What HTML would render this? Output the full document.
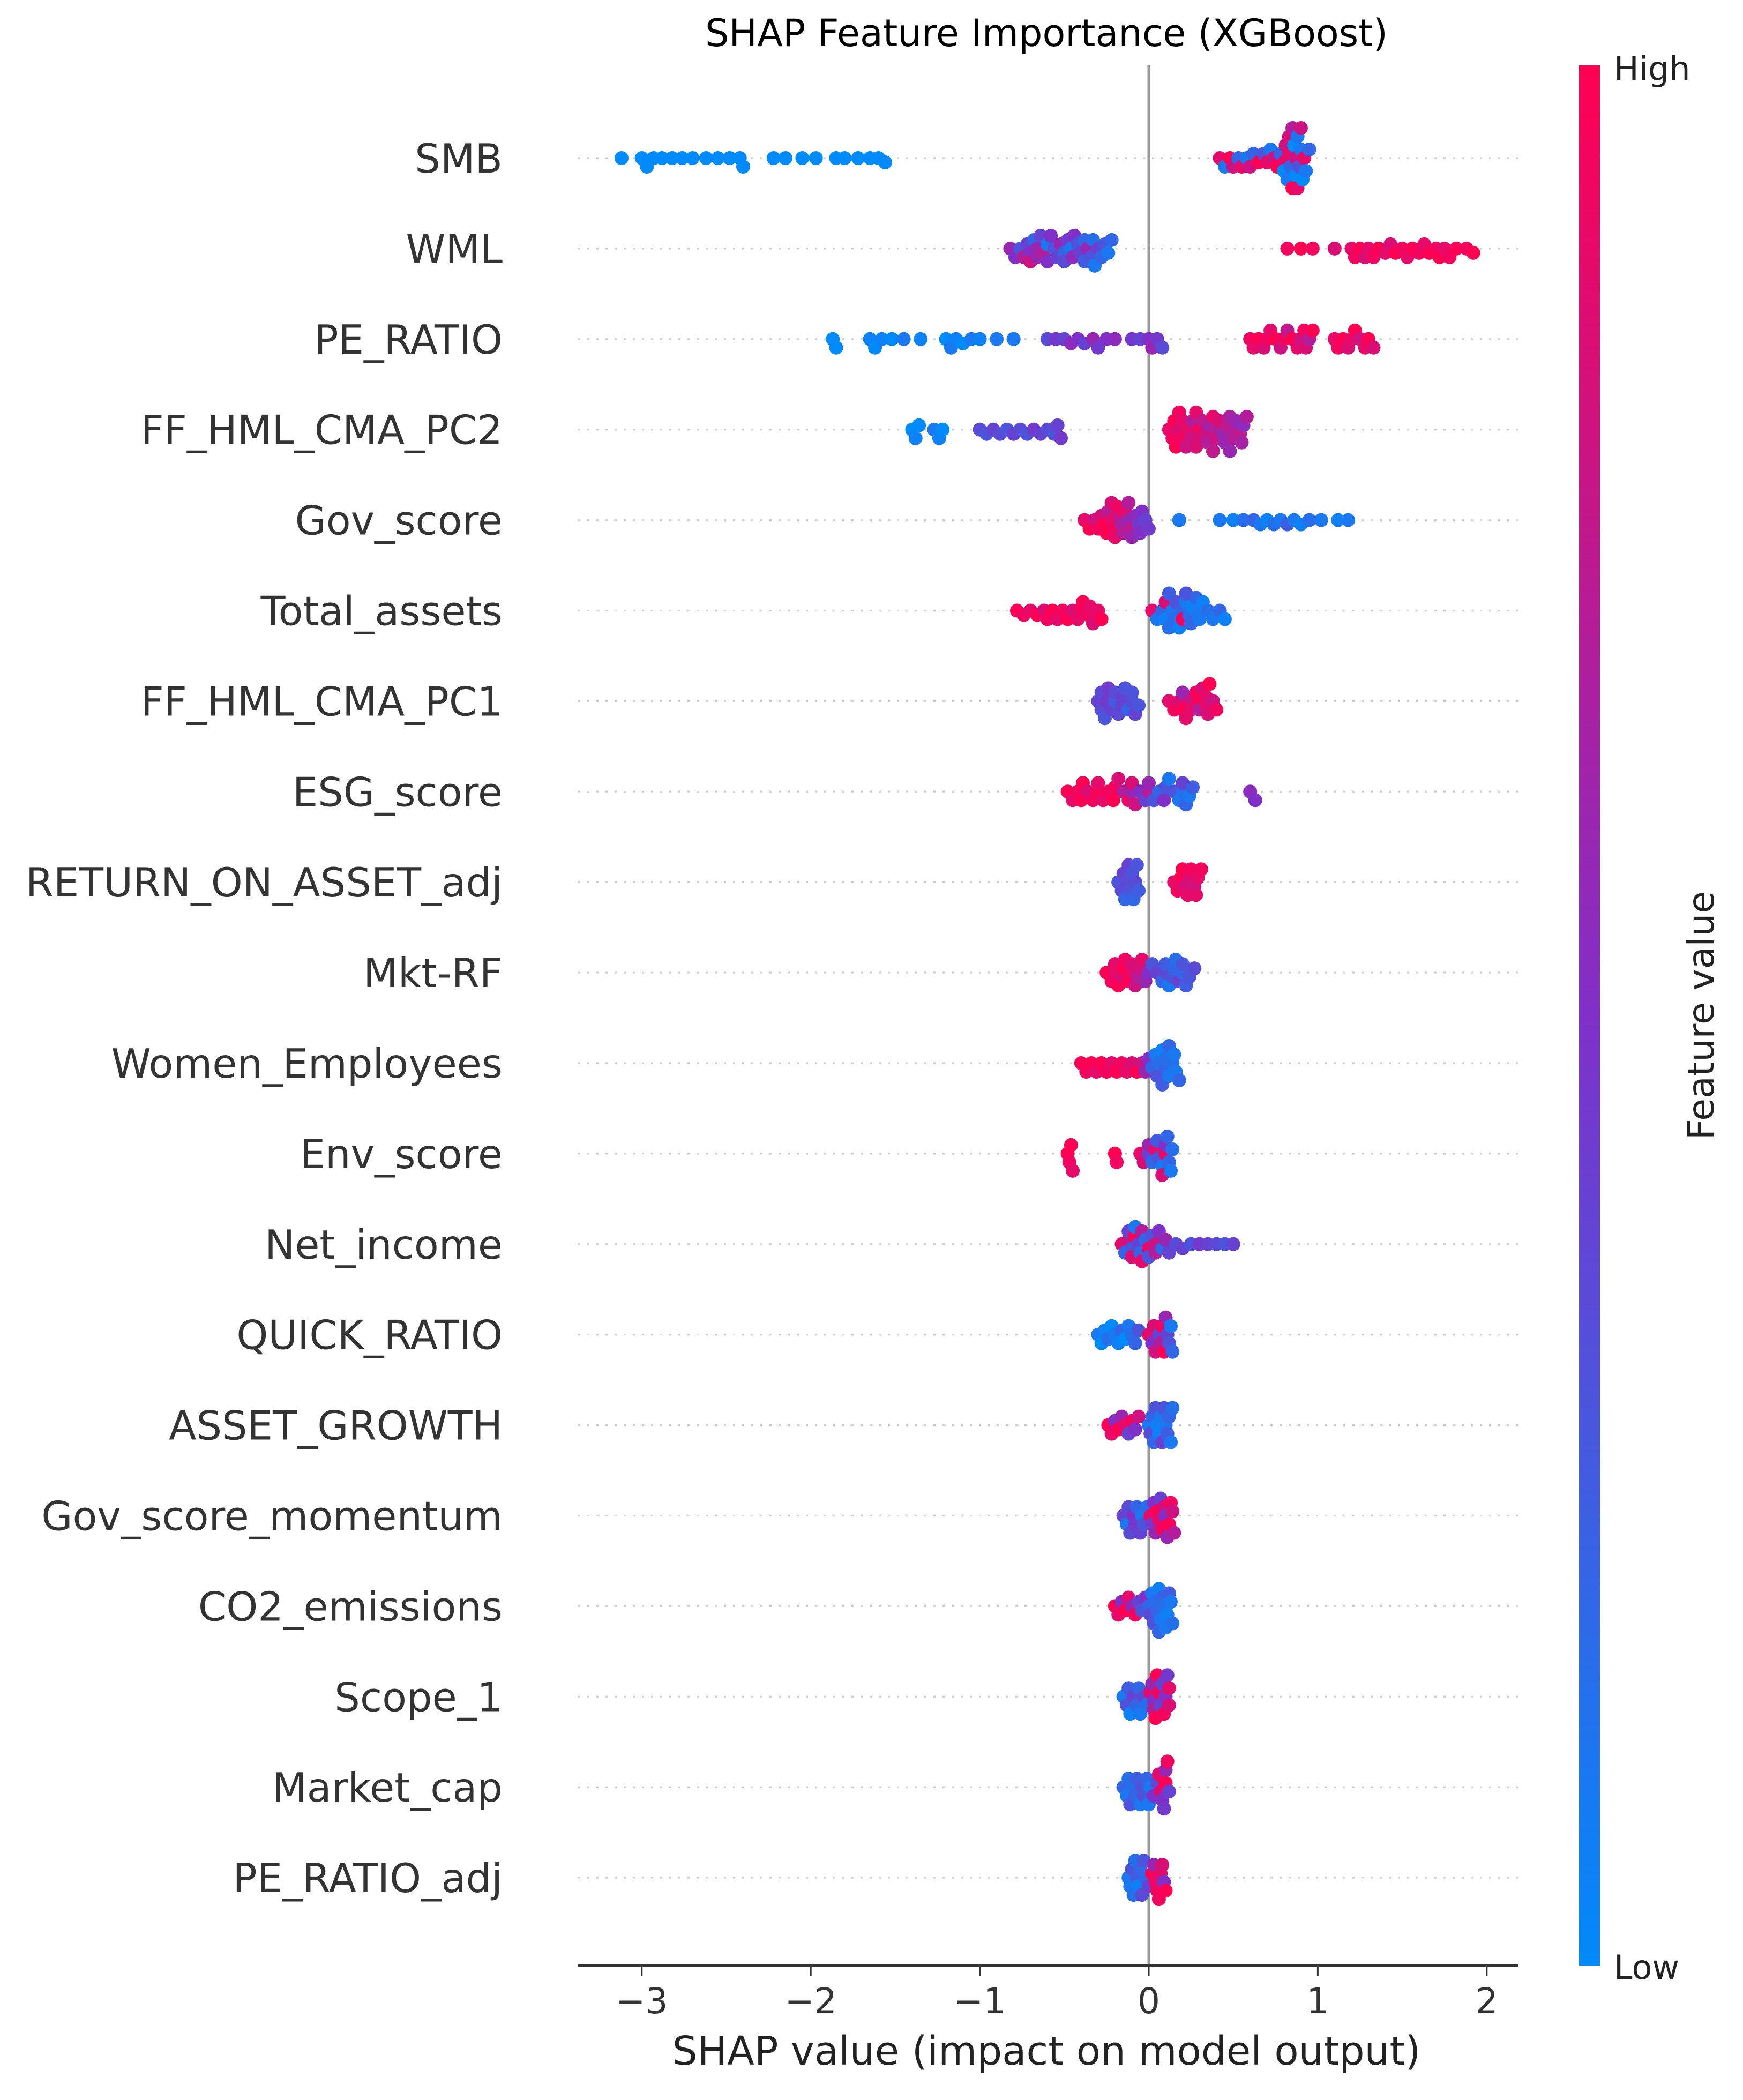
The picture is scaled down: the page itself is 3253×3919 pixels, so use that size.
<!DOCTYPE html>
<html><head><meta charset="utf-8">
<style>
html,body{margin:0;padding:0;background:#fff;}
svg{display:block;}
text{font-family:"DejaVu Sans","Liberation Sans",sans-serif;}
</style></head>
<body>
<svg id="chart" width="3253" height="3919" viewBox="0 0 3253 3919" xmlns="http://www.w3.org/2000/svg">
<defs>
<linearGradient id="cbar" x1="0" y1="1" x2="0" y2="0">
<stop offset="0" stop-color="rgb(0,138,250)"/>
<stop offset="0.5" stop-color="rgb(128,48,200)"/>
<stop offset="1" stop-color="rgb(255,0,82)"/>
</linearGradient>
</defs>
<text x="1953" y="86" font-size="70" text-anchor="middle" fill="#000">SHAP Feature Importance (XGBoost)</text>
<g id="grid"></g>
<line x1="2144" y1="122" x2="2144" y2="3668" stroke="#999" stroke-width="5"/>
<g id="dots"></g>
<g id="labels"></g>
<line x1="1079" y1="3668" x2="2834" y2="3668" stroke="#333" stroke-width="5"/>
<g id="xticks"></g>
<text x="1953" y="3853" font-size="74" text-anchor="middle" fill="#222">SHAP value (impact on model output)</text>
<rect x="2947" y="122" width="39" height="3546" fill="url(#cbar)"/>
<text x="3012" y="150" font-size="62" fill="#222">High</text>
<text x="3012" y="3693" font-size="62" fill="#222">Low</text>
<text x="0" y="0" font-size="68" text-anchor="middle" fill="#222" transform="translate(3198,1895) rotate(-90)">Feature value</text>
</svg>
<script>
const features = ["SMB","WML","PE_RATIO","FF_HML_CMA_PC2","Gov_score","Total_assets","FF_HML_CMA_PC1","ESG_score","RETURN_ON_ASSET_adj","Mkt-RF","Women_Employees","Env_score","Net_income","QUICK_RATIO","ASSET_GROWTH","Gov_score_momentum","CO2_emissions","Scope_1","Market_cap","PE_RATIO_adj"];
const xTicks = [-3,-2,-1,0,1,2];
const xTickLabels = ["\u22123","\u22122","\u22121","0","1","2"];
// SHAP values per feature
const shapValues = [
 [-3.12,-3.0,-2.97,-2.93,-2.88,-2.82,-2.76,-2.7,-2.62,-2.55,-2.48,-2.42,-2.4,-2.22,-2.15,-2.05,-1.97,-1.85,-1.8,-1.72,-1.65,-1.6,-1.56,0.42,0.45,0.48,0.5,0.53,0.55,0.58,0.6,0.62,0.65,0.68,0.7,0.72,0.74,0.76,0.78,0.8,0.8,0.81,0.82,0.83,0.84,0.85,0.86,0.87,0.88,0.88,0.89,0.9,0.9,0.91,0.92,0.93,0.95,0.85,0.87,0.83],
 [-0.82,-0.79,-0.76,-0.74,-0.72,-0.7,-0.68,-0.66,-0.64,-0.62,-0.6,-0.58,-0.56,-0.54,-0.52,-0.5,-0.48,-0.46,-0.44,-0.42,-0.4,-0.38,-0.36,-0.34,-0.32,-0.3,-0.28,-0.26,-0.24,-0.22,-0.7,-0.66,-0.6,-0.5,-0.45,-0.38,-0.33,0.82,0.9,0.97,1.1,1.2,1.22,1.25,1.28,1.3,1.33,1.36,1.4,1.43,1.46,1.5,1.53,1.56,1.6,1.63,1.66,1.7,1.72,1.75,1.78,1.82,1.88,1.92],
 [-1.87,-1.85,-1.65,-1.62,-1.58,-1.52,-1.45,-1.35,-1.2,-1.17,-1.14,-1.1,-1.05,-1.0,-0.9,-0.8,-0.6,-0.55,-0.5,-0.46,-0.42,-0.38,-0.33,-0.3,-0.25,-0.2,-0.1,-0.05,0.0,0.02,0.05,0.08,0.6,0.62,0.65,0.68,0.7,0.72,0.75,0.78,0.8,0.82,0.85,0.88,0.9,0.92,0.93,0.95,0.97,1.1,1.12,1.15,1.18,1.2,1.22,1.25,1.28,1.3,1.33],
 [-1.4,-1.38,-1.36,-1.27,-1.24,-1.22,-1.0,-0.96,-0.92,-0.88,-0.84,-0.8,-0.76,-0.72,-0.68,-0.64,-0.6,-0.56,-0.54,-0.52,0.12,0.14,0.16,0.18,0.2,0.22,0.24,0.26,0.28,0.3,0.32,0.34,0.36,0.38,0.4,0.42,0.44,0.46,0.48,0.5,0.52,0.54,0.56,0.58,0.15,0.2,0.25,0.3,0.35,0.4,0.45,0.5,0.55,0.18,0.28,0.38,0.48],
 [-0.38,-0.35,-0.32,-0.3,-0.28,-0.26,-0.24,-0.22,-0.2,-0.18,-0.16,-0.14,-0.12,-0.1,-0.08,-0.06,-0.04,-0.02,0.0,-0.25,-0.2,-0.15,-0.1,-0.05,-0.22,-0.18,-0.12,0.18,0.42,0.5,0.56,0.62,0.66,0.7,0.74,0.78,0.82,0.86,0.9,0.95,1.02,1.12,1.18],
 [-0.78,-0.74,-0.7,-0.66,-0.62,-0.6,-0.57,-0.54,-0.51,-0.48,-0.45,-0.42,-0.39,-0.36,-0.33,-0.3,-0.28,-0.35,-0.4,0.02,0.05,0.08,0.1,0.12,0.14,0.16,0.18,0.2,0.22,0.24,0.26,0.28,0.3,0.32,0.35,0.38,0.42,0.45,0.1,0.15,0.2,0.25,0.3,0.12,0.22],
 [-0.3,-0.28,-0.26,-0.24,-0.22,-0.2,-0.18,-0.16,-0.14,-0.12,-0.1,-0.08,-0.06,-0.25,-0.2,-0.15,-0.1,-0.28,0.12,0.15,0.18,0.2,0.22,0.25,0.28,0.3,0.32,0.34,0.36,0.38,0.4,0.2,0.25,0.3,0.35,0.34],
 [-0.48,-0.45,-0.42,-0.39,-0.36,-0.33,-0.3,-0.27,-0.24,-0.21,-0.18,-0.15,-0.12,-0.1,-0.08,-0.05,-0.02,0.0,0.03,0.06,0.09,0.12,0.15,0.18,0.2,0.22,0.24,0.26,-0.4,-0.3,-0.2,-0.1,0.0,0.1,0.2,0.6,0.63],
 [-0.18,-0.16,-0.14,-0.12,-0.1,-0.08,-0.06,-0.15,-0.11,-0.09,-0.13,-0.07,0.15,0.17,0.19,0.21,0.23,0.25,0.27,0.29,0.31,0.2,0.24,0.28],
 [-0.25,-0.22,-0.2,-0.18,-0.16,-0.14,-0.12,-0.1,-0.08,-0.06,-0.04,-0.02,0.0,0.02,0.05,0.08,0.1,0.12,0.14,0.16,0.18,0.2,0.22,0.24,0.27,-0.2,-0.15,-0.1,-0.05,0.1,0.15,0.2],
 [-0.4,-0.37,-0.34,-0.31,-0.28,-0.25,-0.22,-0.19,-0.16,-0.13,-0.1,-0.07,-0.04,-0.02,0.0,0.02,0.04,0.06,0.08,0.1,0.12,0.14,0.16,0.18,0.05,0.1,0.15,0.08,0.12],
 [-0.48,-0.47,-0.46,-0.45,-0.2,-0.19,-0.05,-0.03,0.0,0.02,0.04,0.06,0.08,0.1,0.12,0.14,0.0,0.05,0.1,0.13,0.08,0.11],
 [-0.16,-0.14,-0.12,-0.1,-0.08,-0.06,-0.04,-0.02,0.0,0.02,0.04,0.06,0.08,0.1,-0.12,-0.08,-0.04,0.0,0.04,-0.1,-0.05,0.12,0.16,0.2,0.25,0.3,0.35,0.4,0.45,0.5],
 [-0.3,-0.28,-0.26,-0.24,-0.22,-0.2,-0.18,-0.16,-0.14,-0.12,-0.1,-0.08,-0.06,0.0,0.02,0.04,0.06,0.08,0.1,0.12,0.14,0.03,0.07,0.11,0.09,0.13],
 [-0.24,-0.22,-0.2,-0.18,-0.16,-0.14,-0.12,-0.1,-0.08,-0.06,0.0,0.02,0.04,0.06,0.08,0.1,0.12,0.14,0.01,0.05,0.09,0.13,0.03,0.07,0.11],
 [-0.15,-0.13,-0.11,-0.09,-0.07,-0.05,-0.03,-0.01,-0.12,-0.08,-0.04,0.01,0.03,0.05,0.07,0.09,0.11,0.13,0.15,0.02,0.06,0.1,0.14,0.04,0.08,0.12],
 [-0.2,-0.18,-0.16,-0.14,-0.12,-0.1,-0.08,-0.06,-0.04,-0.02,0.0,0.02,0.04,0.06,0.08,0.1,0.12,0.14,0.03,0.07,0.11,0.05,0.09,0.13,0.01,0.06],
 [-0.15,-0.13,-0.11,-0.09,-0.07,-0.05,-0.03,-0.01,-0.12,-0.06,0.01,0.03,0.05,0.07,0.09,0.11,0.12,0.02,0.06,0.1,0.04,0.08,0.12,0.03],
 [-0.15,-0.13,-0.11,-0.09,-0.07,-0.05,-0.03,-0.01,0.01,0.03,0.05,-0.12,-0.08,-0.04,0.0,0.06,0.08,0.1,0.12,0.07,0.11,0.09,0.1],
 [-0.12,-0.1,-0.08,-0.06,-0.04,-0.02,0.0,-0.11,-0.07,-0.03,-0.09,-0.05,0.02,0.04,0.06,0.08,0.1,0.03,0.07,0.05,0.09]
];
// Feature values (0 = low, 1 = high)
const featureValues = [
 [0,0,0,0,0,0,0,0,0,0,0,0,0,0,0,0,0,0,0,0,0,0,0,0.9,0.1,1,0.8,0.2,0.9,0.1,0.8,0.2,1,0.3,0.9,0.1,0.8,1,0.2,0.9,0,0.8,0.1,0.9,0.2,1,0,0.8,0.1,0.9,0.3,0.1,0.8,0,0.9,0.1,0.2,0.7,0,0.85],
 [0.6,0.5,0.3,0.7,0.4,0.5,0.2,0.6,0.4,0.7,0.1,0.5,0.3,0.4,0.6,0.2,0.45,0.1,0.5,0.3,0.4,0.2,0.6,0.3,0.1,0.4,0.2,0.3,0.1,0.2,0.8,0.6,0.5,0.35,0.55,0.25,0.15,0.95,1,0.95,0.85,0.9,0.95,1,0.85,0.9,0.95,1,0.9,0.85,1,0.95,0.9,1,0.95,0.9,1,0.95,1,0.9,0.95,1,0.95,1],
 [0,0,0.05,0,0.05,0,0.1,0.05,0,0.1,0.05,0,0.1,0.05,0.1,0.1,0.35,0.45,0.4,0.55,0.5,0.4,0.6,0.45,0.5,0.55,0.45,0.4,0.5,0.6,0.45,0.35,0.95,0.9,1,0.85,0.95,0.9,1,0.8,0.95,0.75,1,0.9,0.8,0.95,0.85,0.7,1,0.9,0.95,1,0.85,0.9,1,0.8,0.9,1,0.85],
 [0,0.05,0,0.1,0.05,0,0.35,0.3,0.4,0.35,0.3,0.4,0.35,0.3,0.45,0.4,0.35,0.3,0.4,0.45,0.9,0.95,1,0.85,0.95,0.8,0.9,0.7,0.85,0.95,0.75,0.8,0.65,0.9,0.7,0.85,0.6,0.75,0.65,0.7,0.6,0.75,0.55,0.7,1,0.9,0.8,0.85,0.7,0.8,0.6,0.7,0.65,0.95,0.9,0.75,0.6],
 [0.9,1,0.8,0.95,0.85,1,0.7,0.9,0.95,0.8,0.65,0.9,0.6,0.75,0.55,0.45,0.5,0.4,0.45,1,0.9,0.7,0.6,0.5,0.85,0.95,0.7,0.1,0.1,0.05,0.15,0.2,0.1,0.05,0.15,0.1,0.25,0.1,0.05,0.15,0.1,0.05,0.1],
 [1,0.95,0.9,1,0.85,0.95,1,0.9,0.95,1,0.85,0.9,1,0.95,0.85,0.9,1,0.9,0.95,0.9,0.1,0.2,0.05,0.15,0.1,0.3,0.05,0.2,0.1,0.15,0.05,0.2,0.1,0.05,0.15,0.1,0.2,0.05,0.85,0.15,0.95,0.2,0.1,0.25,0.3],
 [0.4,0.35,0.3,0.45,0.4,0.25,0.35,0.4,0.3,0.2,0.35,0.4,0.3,0.45,0.35,0.4,0.3,0.35,0.9,0.95,0.85,1,0.9,0.8,0.95,1,0.85,0.9,1,0.8,0.95,0.6,0.9,0.7,0.85,0.9],
 [1,0.9,0.95,1,0.85,0.95,1,0.9,0.95,1,0.85,0.7,0.9,0.6,0.8,0.5,0.4,0.7,0.3,0.2,0.5,0.1,0.3,0.1,0.15,0.2,0.1,0.25,1,0.9,0.95,0.85,0.6,0.3,0.4,0.55,0.5],
 [0.3,0.35,0.2,0.4,0.3,0.35,0.25,0.4,0.3,0.2,0.35,0.3,0.9,0.95,1,0.85,0.9,0.95,0.8,0.9,0.95,1,0.85,0.9],
 [1,0.95,0.9,1,0.85,0.95,1,0.9,0.8,0.7,0.9,0.6,0.5,0.3,0.4,0.2,0.35,0.1,0.3,0.15,0.4,0.2,0.25,0.3,0.35,0.9,1,0.85,0.8,0.25,0.2,0.3],
 [1,0.95,1,0.9,1,0.95,0.9,1,0.95,0.9,0.85,1,0.8,0.6,0.5,0.2,0.1,0.15,0.05,0.2,0.1,0.15,0.1,0.2,0.3,0.15,0.1,0.25,0.2],
 [1,0.95,1,0.9,1,0.95,0.9,0.85,0.4,0.2,0.9,0.3,0.1,0.95,0.2,0.15,0.6,0.25,0.5,0.1,0.85,0.2],
 [0.9,0.2,0.8,0.3,1,0.4,0.7,0.2,0.9,0.3,0.8,0.5,0.2,0.6,0.4,0.1,0.9,0.3,0.7,0.85,0.2,0.4,0.35,0.4,0.3,0.45,0.4,0.35,0.3,0.4],
 [0.1,0,0.05,0.15,0,0.1,0.05,0.2,0,0.1,0.15,0.2,0.3,0.9,0.5,0.8,0.4,0.95,0.6,0.3,0.2,0.85,0.7,0.4,1,0.1],
 [1,0.9,0.5,1,0.6,0.9,0.4,0.95,0.5,0.8,0.1,0.2,0.3,0.05,0.4,0.1,0.2,0.15,0.35,0.05,0.3,0.1,0.2,0.1,0.25],
 [0.4,0.1,0.35,0.5,0.2,0.4,0.3,0.15,0.35,0.45,0.1,0.9,0.5,1,0.4,0.85,0.6,0.95,0.7,0.45,0.9,0.5,0.8,0.6,0.95,1],
 [1,0.9,0.5,1,0.9,0.6,0.95,0.4,0.3,0.5,0.2,0.1,0.15,0.05,0.2,0.1,0.25,0.15,0.3,0.1,0.05,0.2,0.15,0.1,0.35,0.2],
 [0.1,0.3,0.05,0.4,0.2,0.1,0.35,0.15,0.25,0.2,0.9,0.5,1,0.4,0.95,0.45,0.85,0.6,0.95,0.5,1,0.4,0.9,0.7],
 [0.2,0.1,0.3,0.15,0.25,0.1,0.3,0.2,0.1,0.5,0.35,0.15,0.2,0.3,0.1,0.9,0.5,1,0.4,0.85,0.95,0.45,0.6],
 [0.1,0.3,0.15,0.05,0.35,0.2,0.4,0.1,0.25,0.3,0.15,0.2,1,0.9,0.95,0.85,1,0.6,0.9,0.95,0.5]
];

const NS = "http://www.w3.org/2000/svg";
const X0 = 2144, PXU = 315.4;
const ROW0 = 295, ROWH = 168.9;
const AX_L = 1079, AX_R = 2834;
const R = 13;
function xScale(v){ return X0 + v*PXU; }
function yRow(i){ return ROW0 + i*ROWH; }
function lerp(a,b,t){ return Math.round(a+(b-a)*t); }
function colorFor(c){
  const lo=[0,138,250], mid=[128,48,200], hi=[255,0,82];
  let a,b,t;
  if(c<0.5){a=lo;b=mid;t=c/0.5;}else{a=mid;b=hi;t=(c-0.5)/0.5;}
  return "rgb("+lerp(a[0],b[0],t)+","+lerp(a[1],b[1],t)+","+lerp(a[2],b[2],t)+")";
}
const grid=document.getElementById('grid');
const dots=document.getElementById('dots');
const labels=document.getElementById('labels');
const xt=document.getElementById('xticks');

features.forEach((f,i)=>{
  const y=yRow(i);
  const gl=document.createElementNS(NS,'line');
  
  
  gl.setAttribute('x1',AX_L); gl.setAttribute('x2',AX_R);
  gl.setAttribute('y1',y); gl.setAttribute('y2',y);
  gl.setAttribute('stroke','#ccc'); gl.setAttribute('stroke-width','3');
  gl.setAttribute('stroke-dasharray','4 13');
  grid.appendChild(gl);

  const t=document.createElementNS(NS,'text');
  
  
  t.setAttribute('x',938); t.setAttribute('y',y+27);
  t.setAttribute('font-size','75'); t.setAttribute('text-anchor','end');
  t.setAttribute('fill','#333');
  t.textContent=f;
  labels.appendChild(t);

  // beeswarm placement
  const vals=shapValues[i], cols=featureValues[i];
  const idx=vals.map((v,k)=>k).sort((a,b)=>vals[a]-vals[b]);
  const placed=[];
  const step=8, minD=14;
  idx.forEach(k=>{
    const px=xScale(vals[k]);
    let off=0;
    for(let n=0;n<40;n++){
      const cand=(n===0)?0:(n%2? 1:-1)*Math.ceil(n/2)*step;
      let ok=true;
      for(const p of placed){
        const dx=p[0]-px, dy=p[1]-cand;
        if(dx*dx+dy*dy<minD*minD){ok=false;break;}
      }
      if(ok){off=cand;break;}
      off=cand;
    }
    if(off>56) off=56; if(off<-56) off=-56;
    placed.push([px,off]);
    const c=document.createElementNS(NS,'circle');
    
    
    c.setAttribute('cx',px.toFixed(1));
    c.setAttribute('cy',(y+off).toFixed(1));
    c.setAttribute('r',R);
    c.setAttribute('fill',colorFor(cols[k]));
    dots.appendChild(c);
  });
});

xTicks.forEach((v,k)=>{
  const x=xScale(v);
  const l=document.createElementNS(NS,'line');
  
  
  l.setAttribute('x1',x); l.setAttribute('x2',x);
  l.setAttribute('y1',3668); l.setAttribute('y2',3688);
  l.setAttribute('stroke','#333'); l.setAttribute('stroke-width','3');
  xt.appendChild(l);
  const t=document.createElementNS(NS,'text');
  
  
  t.setAttribute('x',x); t.setAttribute('y',3757);
  t.setAttribute('font-size','66'); t.setAttribute('text-anchor','middle');
  t.setAttribute('fill','#333');
  t.textContent=xTickLabels[k];
  xt.appendChild(t);
});
</script>
</body></html>
